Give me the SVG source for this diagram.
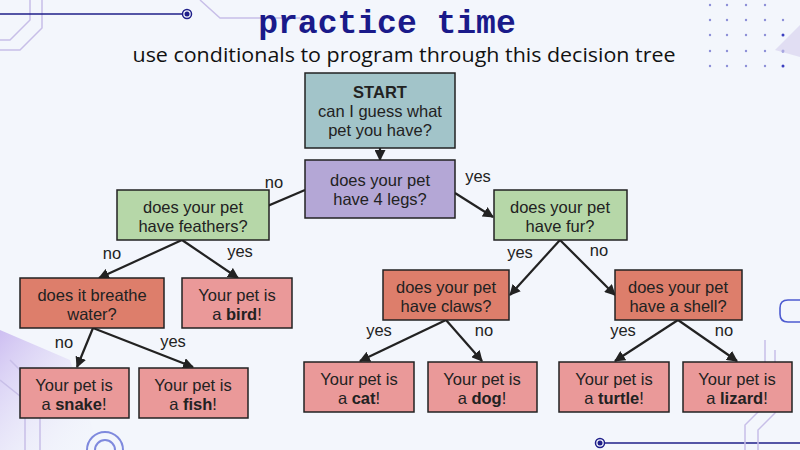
<svg xmlns="http://www.w3.org/2000/svg" width="800" height="450" viewBox="0 0 800 450">
<defs>
<marker id="ah" viewBox="0 0 10 10" refX="9" refY="5" markerWidth="5" markerHeight="5" orient="auto" markerUnits="strokeWidth"><path d="M0,0 L10,5 L0,10 z" fill="#222"/></marker>
<linearGradient id="bl" x1="0" y1="0" x2="1" y2="1"><stop offset="0" stop-color="#c9b8f0" stop-opacity="0.9"/><stop offset="1" stop-color="#f3f6fc" stop-opacity="0"/></linearGradient>
<style>
.box{stroke:#222;stroke-width:1.5}
.t{font-family:"Liberation Sans",Arial,sans-serif;font-size:16.5px;fill:#222;text-anchor:middle}
.lb{font-family:"Liberation Sans",Arial,sans-serif;font-size:16.5px;fill:#222;text-anchor:middle}
.b{font-weight:bold}
.c{stroke:#222;stroke-width:2.2;fill:none;marker-end:url(#ah)}
.teal{fill:#a2c4c9}.purple{fill:#b4a7d6}.green{fill:#b6d7a8}.dark{fill:#dd7e6b}.light{fill:#ea9999}
.deco{stroke:#c8bfe8;stroke-width:1.5;fill:none}
</style>
</defs>
<rect width="800" height="450" fill="#f3f6fc"/>
<g id="decor">
<path class="deco" d="M0,40 L10,40 L30,20 L30,0"/>
<path class="deco" d="M0,50 L20,50 L42,28 L42,0"/>
<path class="deco" d="M200,0 L220,18 L300,18"/>
<line x1="0" y1="14" x2="183" y2="14" stroke="#1f1f8a" stroke-width="1.6"/>
<circle cx="187" cy="14" r="4.5" fill="none" stroke="#1f1f8a" stroke-width="1.5"/>
<circle cx="187" cy="14" r="2.5" fill="#1f1f8a"/>
<line x1="604" y1="443" x2="800" y2="443" stroke="#1f1f8a" stroke-width="1.6"/>
<circle cx="600" cy="443" r="4.5" fill="none" stroke="#1f1f8a" stroke-width="1.5"/>
<circle cx="600" cy="443" r="2.5" fill="#1f1f8a"/>
<path class="deco" d="M745,450 L745,425 L765,405 L765,340"/>
<path class="deco" d="M758,450 L758,430 L775,413 L775,350"/>
<path d="M788,300 L800,300 M788,300 q-8,0 -8,8 l0,6 q0,8 8,8 L800,322" stroke="#4d5bd0" stroke-width="1.6" fill="none"/>
<path d="M0,330 L70,360 L100,450 L0,450 z" fill="url(#bl)"/>
<path d="M0,380 L25,400 L25,450" class="deco"/>
<path d="M10,360 L40,390 L40,450" class="deco"/>
<circle cx="105" cy="450" r="18" fill="none" stroke="#4d5bd0" stroke-width="2" opacity="0.7"/>
<circle cx="105" cy="450" r="10" fill="none" stroke="#4d5bd0" stroke-width="2" opacity="0.7"/>
<g fill="#8d8fd8">
<circle cx="710" cy="5" r="1.2"/><circle cx="727" cy="5" r="1.2"/><circle cx="746" cy="5" r="1.2"/><circle cx="765" cy="5" r="1.2"/>
<circle cx="710" cy="20" r="1.2"/><circle cx="727" cy="20" r="1.2"/><circle cx="746" cy="20" r="1.2"/><circle cx="765" cy="20" r="1.2"/><circle cx="783" cy="20" r="1.2"/>
<circle cx="710" cy="35" r="1.2"/><circle cx="727" cy="35" r="1.2"/><circle cx="746" cy="35" r="1.2"/><circle cx="765" cy="35" r="1.2"/><circle cx="783" cy="35" r="1.5" fill="#3b3fc0"/>
<circle cx="710" cy="51" r="1.2"/><circle cx="727" cy="51" r="1.2"/><circle cx="746" cy="51" r="1.2"/><circle cx="765" cy="51" r="1.2"/><circle cx="783" cy="51" r="1.5" fill="#3b3fc0"/>
<circle cx="710" cy="66" r="1.2"/><circle cx="727" cy="66" r="1.2"/><circle cx="746" cy="66" r="1.2"/><circle cx="765" cy="66" r="1.2"/><circle cx="783" cy="66" r="1.5" fill="#3b3fc0"/>
</g>
<path d="M800,25 L775,50 L800,57 z" fill="#d8d4f0" opacity="0.7"/>
</g>
<g id="title">
<text x="387" y="33" font-family="'Liberation Mono','Courier New',monospace" font-weight="bold" font-size="33" fill="#1a1a8a" text-anchor="middle">practice time</text>
<text x="404" y="62" font-family="'Open Sans','Liberation Sans',Arial,sans-serif" font-size="20" fill="#111" text-anchor="middle" textLength="543" lengthAdjust="spacingAndGlyphs">use conditionals to program through this decision tree</text>
</g>
<g id="connectors">
<line class="c" x1="380" y1="148" x2="380" y2="160"/>
<line class="c" x1="305" y1="190" x2="251" y2="213"/>
<line class="c" x1="455" y1="193" x2="493" y2="217"/>
<line class="c" x1="182" y1="240" x2="99" y2="278"/>
<line class="c" x1="182" y1="240" x2="238" y2="278"/>
<line class="c" x1="93" y1="328" x2="77" y2="367"/>
<line class="c" x1="93" y1="328" x2="193" y2="367"/>
<line class="c" x1="560" y1="240" x2="510" y2="295"/>
<line class="c" x1="560" y1="240" x2="615" y2="295"/>
<line class="c" x1="446" y1="320" x2="360" y2="361"/>
<line class="c" x1="446" y1="320" x2="482" y2="361"/>
<line class="c" x1="678" y1="320" x2="615" y2="361"/>
<line class="c" x1="678" y1="320" x2="737" y2="361"/>
</g>
<g id="labels">
<text class="lb" x="274" y="188">no</text>
<text class="lb" x="478" y="182">yes</text>
<text class="lb" x="112" y="259">no</text>
<text class="lb" x="240" y="257">yes</text>
<text class="lb" x="64" y="348">no</text>
<text class="lb" x="173" y="347">yes</text>
<text class="lb" x="520" y="258">yes</text>
<text class="lb" x="599" y="256">no</text>
<text class="lb" x="379" y="336">yes</text>
<text class="lb" x="484" y="336">no</text>
<text class="lb" x="623" y="336">yes</text>
<text class="lb" x="724" y="336">no</text>
</g>
<g id="start"><rect class="box teal" x="305" y="73" width="150" height="75"/>
<text class="t b" x="380" y="98">START</text><text class="t" x="380" y="117">can I guess what</text><text class="t" x="380" y="136">pet you have?</text></g>
<g id="legs"><rect class="box purple" x="305" y="160" width="150" height="58"/>
<text class="t" x="380" y="186">does your pet</text><text class="t" x="380" y="205">have 4 legs?</text></g>
<g id="feathers"><rect class="box green" x="117" y="190" width="152" height="50"/>
<text class="t" x="193" y="213">does your pet</text><text class="t" x="193" y="232">have feathers?</text></g>
<g id="fur"><rect class="box green" x="494" y="190" width="133" height="50"/>
<text class="t" x="560" y="213">does your pet</text><text class="t" x="560" y="232">have fur?</text></g>
<g id="water"><rect class="box dark" x="20" y="278" width="144" height="50"/>
<text class="t" x="92" y="301">does it breathe</text><text class="t" x="92" y="320">water?</text></g>
<g id="bird"><rect class="box light" x="182" y="278" width="110" height="50"/>
<text class="t" x="237" y="301">Your pet is</text><text class="t" x="237" y="320">a <tspan class="b">bird</tspan>!</text></g>
<g id="claws"><rect class="box dark" x="383" y="270" width="126" height="50"/>
<text class="t" x="446" y="293">does your pet</text><text class="t" x="446" y="312">have claws?</text></g>
<g id="shell"><rect class="box dark" x="615" y="270" width="127" height="50"/>
<text class="t" x="678" y="293">does your pet</text><text class="t" x="678" y="312">have a shell?</text></g>
<g id="snake"><rect class="box light" x="20" y="368" width="109" height="50"/>
<text class="t" x="74" y="391">Your pet is</text><text class="t" x="74" y="410">a <tspan class="b">snake</tspan>!</text></g>
<g id="fish"><rect class="box light" x="139" y="368" width="109" height="50"/>
<text class="t" x="193" y="391">Your pet is</text><text class="t" x="193" y="410">a <tspan class="b">fish</tspan>!</text></g>
<g id="cat"><rect class="box light" x="304" y="362" width="110" height="50"/>
<text class="t" x="359" y="385">Your pet is</text><text class="t" x="359" y="404">a <tspan class="b">cat</tspan>!</text></g>
<g id="dog"><rect class="box light" x="428" y="362" width="109" height="50"/>
<text class="t" x="482" y="385">Your pet is</text><text class="t" x="482" y="404">a <tspan class="b">dog</tspan>!</text></g>
<g id="turtle"><rect class="box light" x="559" y="362" width="110" height="50"/>
<text class="t" x="614" y="385">Your pet is</text><text class="t" x="614" y="404">a <tspan class="b">turtle</tspan>!</text></g>
<g id="lizard"><rect class="box light" x="683" y="362" width="109" height="50"/>
<text class="t" x="737" y="385">Your pet is</text><text class="t" x="737" y="404">a <tspan class="b">lizard</tspan>!</text></g>
</svg>
